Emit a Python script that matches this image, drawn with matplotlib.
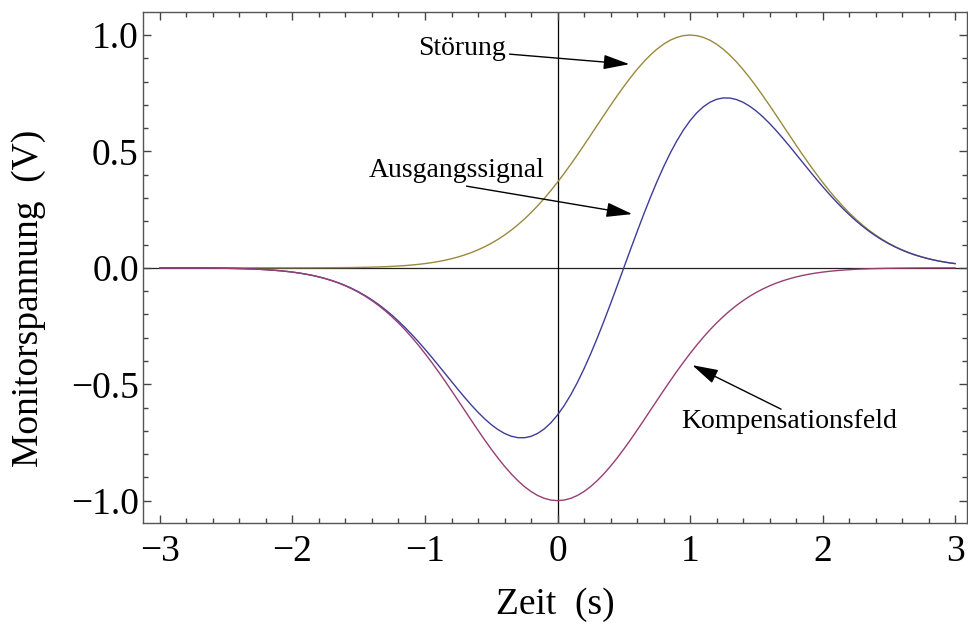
import matplotlib
matplotlib.use("Agg")
import matplotlib.pyplot as plt
from matplotlib.ticker import MultipleLocator, FixedLocator, FixedFormatter
import numpy as np

plt.rcParams['font.family'] = ['Liberation Serif', 'DejaVu Serif']

# sample times (s), 0.05 s spacing from -3 to 3
t = np.round(np.arange(-60, 61) * 0.05, 2)

stoerung = [
    0.0000, 0.0000, 0.0000, 0.0000, 0.0000, 0.0000, 0.0000, 0.0000, 0.0000, 0.0000,
    0.0000, 0.0000, 0.0000, 0.0000, 0.0000, 0.0000, 0.0000, 0.0000, 0.0001, 0.0001,
    0.0001, 0.0002, 0.0002, 0.0003, 0.0004, 0.0005, 0.0007, 0.0009, 0.0012, 0.0015,
    0.0019, 0.0025, 0.0032, 0.0040, 0.0050, 0.0063, 0.0079, 0.0098, 0.0122, 0.0150,
    0.0183, 0.0223, 0.0271, 0.0326, 0.0392, 0.0468, 0.0556, 0.0657, 0.0773, 0.0905,
    0.1054, 0.1222, 0.1409, 0.1616, 0.1845, 0.2096, 0.2369, 0.2665, 0.2982, 0.3321,
    0.3679, 0.4056, 0.4449, 0.4855, 0.5273, 0.5698, 0.6126, 0.6554, 0.6977, 0.7390,
    0.7788, 0.8167, 0.8521, 0.8847, 0.9139, 0.9394, 0.9608, 0.9778, 0.9900, 0.9975,
    1.0000, 0.9975, 0.9900, 0.9778, 0.9608, 0.9394, 0.9139, 0.8847, 0.8521, 0.8167,
    0.7788, 0.7390, 0.6977, 0.6554, 0.6126, 0.5698, 0.5273, 0.4855, 0.4449, 0.4056,
    0.3679, 0.3321, 0.2982, 0.2665, 0.2369, 0.2096, 0.1845, 0.1616, 0.1409, 0.1222,
    0.1054, 0.0905, 0.0773, 0.0657, 0.0556, 0.0468, 0.0392, 0.0326, 0.0271, 0.0223,
    0.0183,
]

kompensation = [
    -0.0001, -0.0002, -0.0002, -0.0003, -0.0004, -0.0005, -0.0007, -0.0009, -0.0012, -0.0015,
    -0.0019, -0.0025, -0.0032, -0.0040, -0.0050, -0.0063, -0.0079, -0.0098, -0.0122, -0.0150,
    -0.0183, -0.0223, -0.0271, -0.0326, -0.0392, -0.0468, -0.0556, -0.0657, -0.0773, -0.0905,
    -0.1054, -0.1222, -0.1409, -0.1616, -0.1845, -0.2096, -0.2369, -0.2665, -0.2982, -0.3321,
    -0.3679, -0.4056, -0.4449, -0.4855, -0.5273, -0.5698, -0.6126, -0.6554, -0.6977, -0.7390,
    -0.7788, -0.8167, -0.8521, -0.8847, -0.9139, -0.9394, -0.9608, -0.9778, -0.9900, -0.9975,
    -1.0000, -0.9975, -0.9900, -0.9778, -0.9608, -0.9394, -0.9139, -0.8847, -0.8521, -0.8167,
    -0.7788, -0.7390, -0.6977, -0.6554, -0.6126, -0.5698, -0.5273, -0.4855, -0.4449, -0.4056,
    -0.3679, -0.3321, -0.2982, -0.2665, -0.2369, -0.2096, -0.1845, -0.1616, -0.1409, -0.1222,
    -0.1054, -0.0905, -0.0773, -0.0657, -0.0556, -0.0468, -0.0392, -0.0326, -0.0271, -0.0223,
    -0.0183, -0.0150, -0.0122, -0.0098, -0.0079, -0.0063, -0.0050, -0.0040, -0.0032, -0.0025,
    -0.0019, -0.0015, -0.0012, -0.0009, -0.0007, -0.0005, -0.0004, -0.0003, -0.0002, -0.0002,
    -0.0001,
]

ausgang = [
    -0.0001, -0.0002, -0.0002, -0.0003, -0.0004, -0.0005, -0.0007, -0.0009, -0.0012, -0.0015,
    -0.0019, -0.0025, -0.0032, -0.0040, -0.0050, -0.0063, -0.0079, -0.0098, -0.0121, -0.0149,
    -0.0182, -0.0221, -0.0269, -0.0323, -0.0388, -0.0463, -0.0549, -0.0648, -0.0761, -0.0890,
    -0.1035, -0.1197, -0.1377, -0.1576, -0.1795, -0.2033, -0.2290, -0.2567, -0.2860, -0.3171,
    -0.3496, -0.3833, -0.4178, -0.4529, -0.4881, -0.5230, -0.5570, -0.5897, -0.6204, -0.6485,
    -0.6734, -0.6945, -0.7112, -0.7231, -0.7294, -0.7298, -0.7239, -0.7113, -0.6918, -0.6654,
    -0.6321, -0.5919, -0.5451, -0.4923, -0.4335, -0.3696, -0.3013, -0.2293, -0.1544, -0.0777,
    0.0000, 0.0777, 0.1544, 0.2293, 0.3013, 0.3696, 0.4335, 0.4923, 0.5451, 0.5919,
    0.6321, 0.6654, 0.6918, 0.7113, 0.7239, 0.7298, 0.7294, 0.7231, 0.7112, 0.6945,
    0.6734, 0.6485, 0.6204, 0.5897, 0.5570, 0.5230, 0.4881, 0.4529, 0.4178, 0.3833,
    0.3496, 0.3171, 0.2860, 0.2567, 0.2290, 0.2033, 0.1795, 0.1576, 0.1377, 0.1197,
    0.1035, 0.0890, 0.0761, 0.0648, 0.0549, 0.0463, 0.0388, 0.0323, 0.0269, 0.0221,
    0.0182,
]

x_ticks = [-3, -2, -1, 0, 1, 2, 3]
y_ticks = [-1.0, -0.5, 0.0, 0.5, 1.0]
y_labels = ["\u22121.0", "\u22120.5", "0.0", "0.5", "1.0"]

c_blue = (0.24, 0.24, 0.6)
c_purple = (0.6, 0.24, 0.456)
c_olive = (0.6, 0.5406, 0.24)

fig = plt.figure(figsize=(9.68, 6.28), dpi=100)
ax = fig.add_axes([143 / 968, 105 / 628, 824 / 968, 511 / 628])

ax.axhline(0, color="#222222", lw=0.9, zorder=1)
ax.axvline(0, color="black", lw=0.9, zorder=1)

ax.plot(t, ausgang, color=c_blue, lw=1.0, zorder=3)
ax.plot(t, kompensation, color=c_purple, lw=1.0, zorder=3)
ax.plot(t, stoerung, color=c_olive, lw=1.0, zorder=2)

ax.set_xlim(-3.128, 3.09)
ax.set_ylim(-1.096, 1.099)

ax.xaxis.set_major_locator(FixedLocator(x_ticks))
ax.xaxis.set_minor_locator(MultipleLocator(0.2))
ax.yaxis.set_major_locator(FixedLocator(y_ticks))
ax.yaxis.set_major_formatter(FixedFormatter(y_labels))
ax.yaxis.set_minor_locator(MultipleLocator(0.1))

ax.tick_params(which="both", direction="in", top=True, right=True,
               color="#444444", width=1.0, labelsize=27)
ax.tick_params(which="major", length=6)
ax.tick_params(which="minor", length=3.5)
ax.tick_params(axis="x", pad=8.5)
ax.tick_params(axis="y", pad=3)
for s in ax.spines.values():
    s.set_color("#555555")
    s.set_linewidth(1.0)

ax.set_xlabel("Zeit  (s)", fontsize=27, labelpad=13)
ax.set_ylabel("Monitorspannung  (V)", fontsize=27)
ax.yaxis.set_label_coords(-0.118, 0.44)

arrow = dict(arrowstyle="-|>,head_length=1.6,head_width=0.45", color="black",
             lw=1.0, shrinkA=0, shrinkB=0, mutation_scale=10)

ax.text(-0.724, 0.944, "Störung", fontsize=20, ha="center", va="center")
ax.annotate("", xy=(0.542, 0.875), xytext=(-0.362, 0.918), arrowprops=arrow)

ax.text(-0.762, 0.420, "Ausgangssignal", fontsize=20, ha="center", va="center")
ax.annotate("", xy=(0.564, 0.231), xytext=(-0.687, 0.351), arrowprops=arrow)

ax.text(1.748, -0.662, "Kompensationsfeld", fontsize=20, ha="center", va="center")
ax.annotate("", xy=(1.017, -0.418), xytext=(1.687, -0.607), arrowprops=arrow)

fig.savefig("out.png", dpi=100)
